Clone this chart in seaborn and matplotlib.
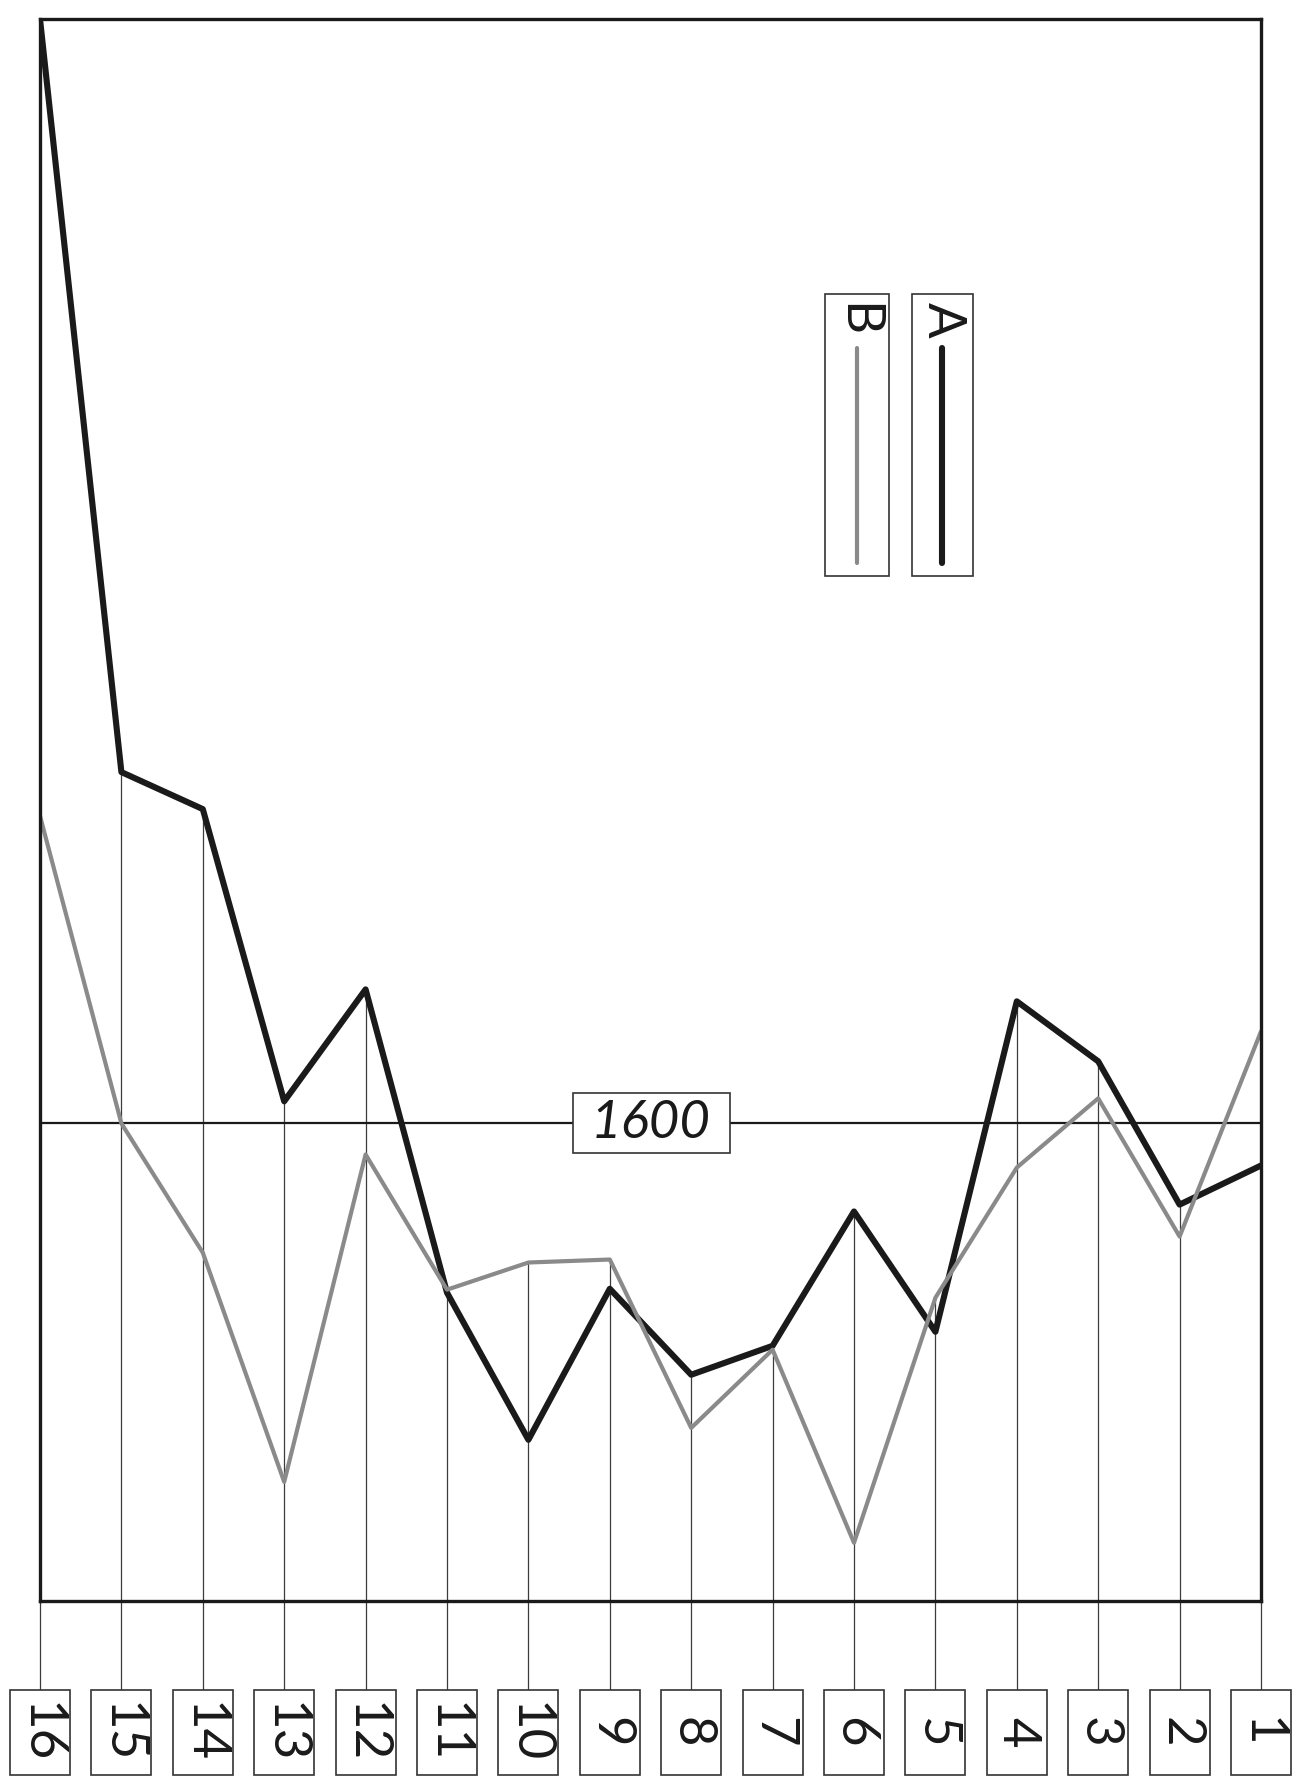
import numpy as np
import pandas as pd
import matplotlib.pyplot as plt
from matplotlib.patches import Rectangle
import seaborn as sns

# ---------- dados ----------
positions = [16, 15, 14, 13, 12, 11, 10, 9, 8, 7, 6, 5, 4, 3, 2, 1]
serie_a = [5300, 2777, 2653, 1674, 2049, 1033, 540, 1046, 758, 855, 1305, 902, 2009, 1808, 1328, 1459]
serie_b = [2630, 1600, 1167, 399, 1496, 1043, 1134, 1144, 580, 842, 195, 1016, 1452, 1684, 1221, 1908]
ref_value = 1600
series_names = ['A', 'B']

df = pd.DataFrame({
    'idx': list(range(len(positions))) * 2,
    'value': serie_a + serie_b,
    'serie': ['A'] * len(positions) + ['B'] * len(positions),
})

sns.set_style('white')
plt.rcParams['font.family'] = ['Lato', 'DejaVu Sans']

W, H = 1297, 1779
fig = plt.figure(figsize=(W / 100, H / 100), dpi=100)
ax_l, ax_r, ax_t, ax_b = 40, 1261, 19, 1601
ax = fig.add_axes([ax_l / W, 1 - ax_b / H, (ax_r - ax_l) / W, (ax_b - ax_t) / H])

ymax = 5300
n = len(positions)
ux = (n - 1) / (ax_r - ax_l)   # unidades de dados por pixel
uy = ymax / (ax_b - ax_t)

dark = '#1a1a1a'
gray = '#8a8a8a'
txt_kw = dict(fontsize=38, fontweight='normal', color=dark)

# ---------- linhas ----------
sns.lineplot(data=df[df['serie'] == 'A'], x='idx', y='value', color=dark,
             linewidth=4.4, ax=ax, zorder=4)
sns.lineplot(data=df[df['serie'] == 'B'], x='idx', y='value', color=gray,
             linewidth=3.0, ax=ax, zorder=5)

ax.set_xlim(0, n - 1)
ax.set_ylim(0, ymax)
ax.set_xticks([])
ax.set_yticks([])
ax.set_xlabel('')
ax.set_ylabel('')
for s in ax.spines.values():
    s.set_linewidth(2.4)
    s.set_color(dark)
    s.set_zorder(6)

# linha de referencia
ax.axhline(ref_value, color=dark, linewidth=1.6, zorder=2)
ax.add_patch(Rectangle((7.5 - 78 * ux, ref_value - 30 * uy), 157 * ux, 60 * uy,
                       facecolor='white', edgecolor='#333333', linewidth=1.2, zorder=7))
ax.text(7.5, ref_value, str(ref_value), ha='center', va='center', style='italic',
        zorder=8, **txt_kw)

# ---------- linhas verticais + rotulos ----------
tops = np.maximum(serie_a, serie_b)
box_top = -89 * uy
box_h = 85 * uy
box_w = 60 * ux
ax.vlines(range(n), box_top, tops, color='#3c3c3c', linewidth=0.9, zorder=1, clip_on=False)
for i, p in enumerate(positions):
    ax.add_patch(Rectangle((i - box_w / 2, box_top - box_h), box_w, box_h, facecolor='white',
                           edgecolor='#333333', linewidth=1.2, clip_on=False, zorder=3))
    ax.text(i, box_top - box_h / 2, str(p), rotation=-90, ha='center', va='center',
            clip_on=False, zorder=4, **txt_kw)

# ---------- legenda (rotacionada) ----------
leg = {'B': (0.643, 0.695, gray, 3.0), 'A': (0.714, 0.764, dark, 4.4)}
for name in series_names:
    x0, x1, c, lw = leg[name]
    xc = (x0 + x1) / 2
    ax.add_patch(Rectangle((x0, 0.648), x1 - x0, 0.178, transform=ax.transAxes,
                           facecolor='white', edgecolor='#333333', linewidth=1.2, zorder=7))
    ax.text(xc, 0.810, name, rotation=-90, ha='center', va='center',
            transform=ax.transAxes, zorder=8, **txt_kw)
    ax.plot([xc, xc], [0.656, 0.792], color=c, linewidth=lw, solid_capstyle='round',
            transform=ax.transAxes, zorder=8)

fig.savefig('out.png', dpi=100, facecolor='white')
